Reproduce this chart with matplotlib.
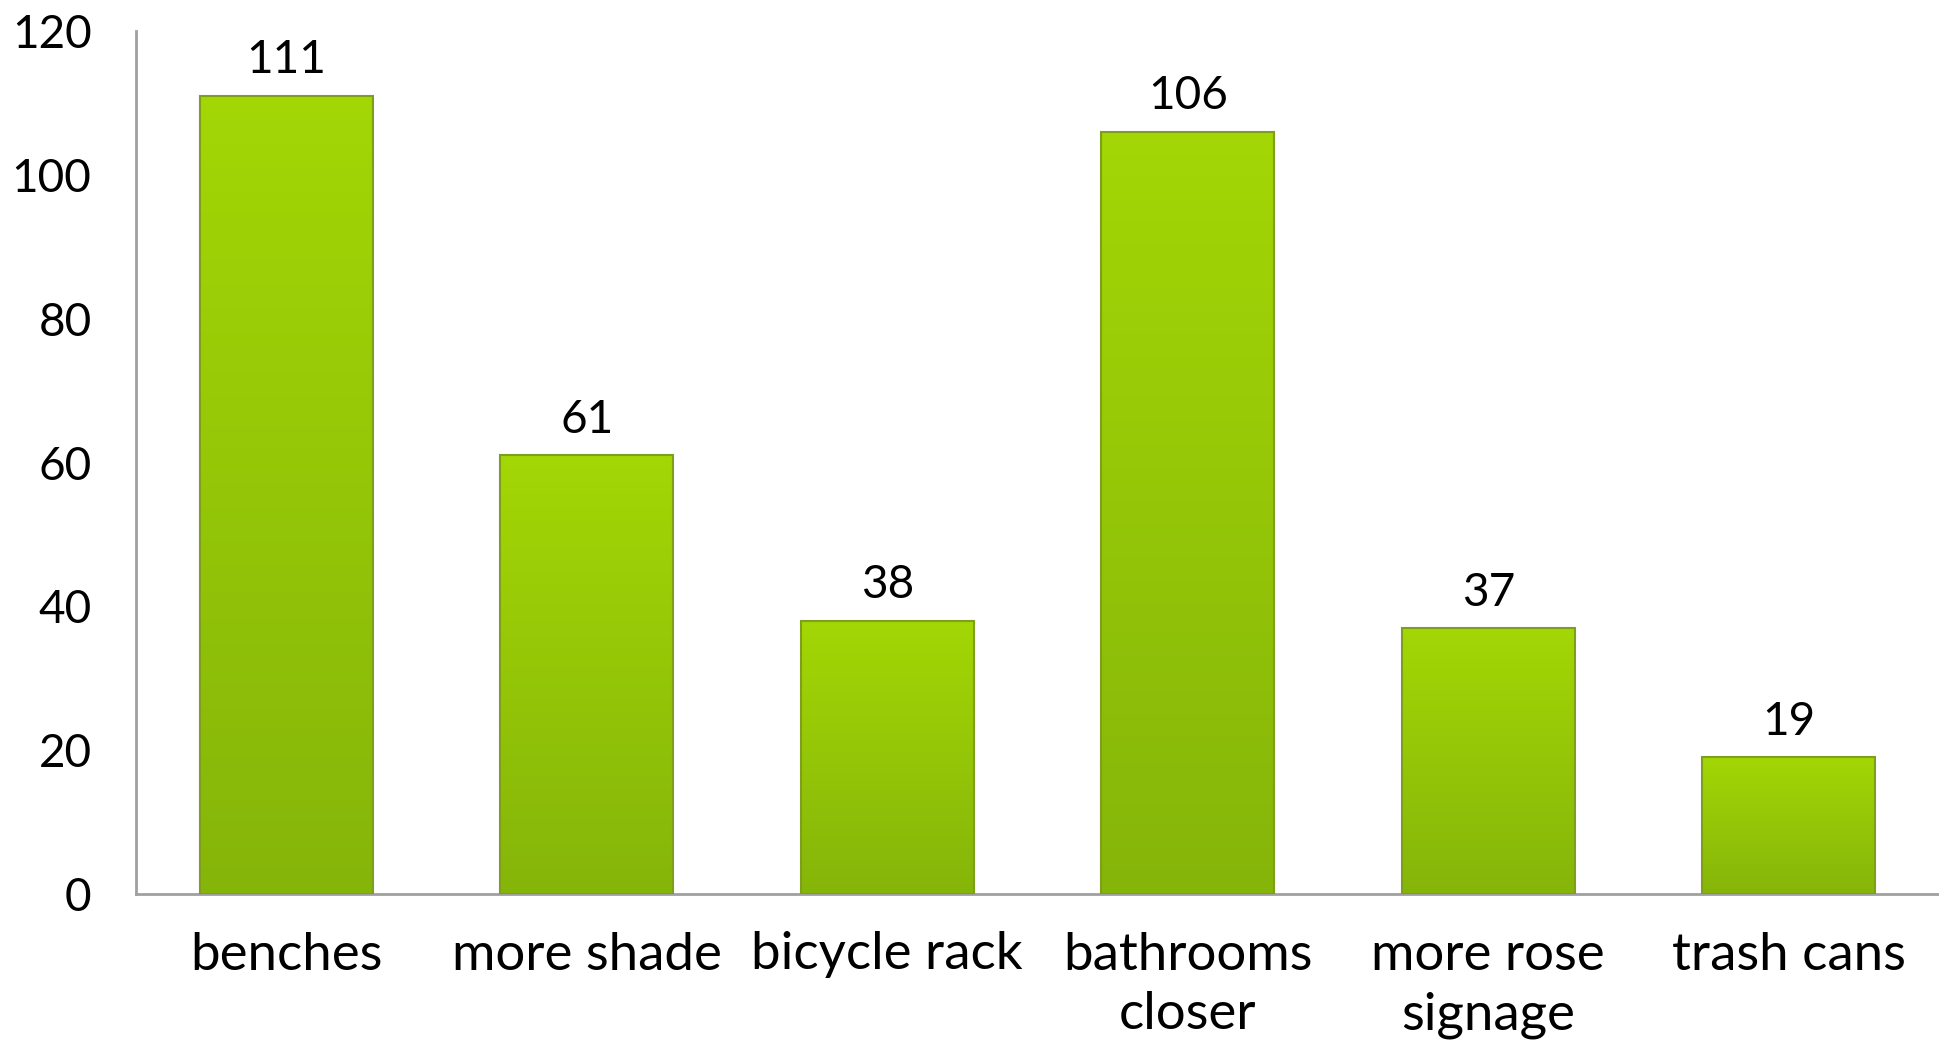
import matplotlib
matplotlib.use("Agg")
import matplotlib.pyplot as plt
import numpy as np
from matplotlib.colors import LinearSegmentedColormap

categories = ["benches", "more shade", "bicycle rack", "bathrooms\ncloser", "more rose\nsignage", "trash cans"]
values = [111, 61, 38, 106, 37, 19]
yticks = [0, 20, 40, 60, 80, 100, 120]

plt.rcParams['font.family'] = ['Lato', 'DejaVu Sans']

fig = plt.figure(figsize=(19.39, 10.41), dpi=100)
ax = fig.add_axes([136/1939, 1 - 894/1041, 1 - 136/1939, (894 - 31)/1041])

x = np.arange(len(categories))
bars = ax.bar(x, values, width=0.575, color='none', edgecolor='#7f9f1c', linewidth=1.5, zorder=3)

cmap = LinearSegmentedColormap.from_list('g', ['#86b50a', '#a3d705'])
grad = np.linspace(0, 1, 256).reshape(-1, 1)
for b in bars:
    x0, y0 = b.get_x(), b.get_y()
    w, h = b.get_width(), b.get_height()
    im = ax.imshow(grad, extent=[x0, x0 + w, y0, y0 + h], origin='lower', cmap=cmap,
                   aspect='auto', zorder=2)
    im.set_clip_path(b)

for xi, v in zip(x, values):
    ax.text(xi, v + 2.0, str(v), ha='center', va='bottom', fontsize=33, color='black')

ax.set_xlim(-0.5, len(categories) - 0.5)
ax.set_ylim(0, 120)
ax.set_yticks(yticks)
ax.set_yticklabels([str(t) for t in yticks], fontsize=33)
ax.set_xticks(x)
ax.set_xticklabels(categories, fontsize=38, linespacing=1.33)
ax.tick_params(axis='both', length=0)
ax.tick_params(axis='x', pad=27)
ax.tick_params(axis='y', pad=32)
for s in ['top', 'right']:
    ax.spines[s].set_visible(False)
for s in ['left', 'bottom']:
    ax.spines[s].set_color('#a0a0a0')
    ax.spines[s].set_linewidth(2)

fig.savefig('out.png', dpi=100)
